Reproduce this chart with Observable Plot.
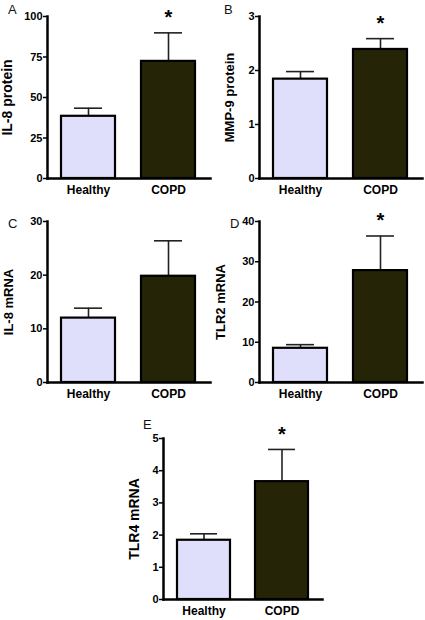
<!DOCTYPE html>
<html><head><meta charset="utf-8">
<script src="https://cdn.jsdelivr.net/npm/d3@7"></script>
<script src="https://cdn.jsdelivr.net/npm/@observablehq/plot@0.6"></script>
<style>
body{margin:0;background:#fff;}
#chart{position:relative;width:425px;height:620px;font-family:"Liberation Sans",Arial,sans-serif;background:#fff;}
.panel{position:absolute;}
.letter{position:absolute;font-size:13px;line-height:1;color:#111;}
</style></head><body><div id="chart"></div>
<script>
// ---- data ----
const groups = ["Healthy", "COPD"];
const il8Protein = [38.4, 72.3];
const il8ProteinSem = [5.0, 17.6];
const mmp9Protein = [1.84, 2.39];
const mmp9ProteinSem = [0.14, 0.20];
const il8Mrna = [12.0, 19.8];
const il8MrnaSem = [1.85, 6.6];
const tlr2Mrna = [8.5, 27.8];
const tlr2MrnaSem = [0.9, 8.6];
const tlr4Mrna = [1.84, 3.66];
const tlr4MrnaSem = [0.2, 1.0];
const panelLetters = ["A", "B", "C", "D", "E"];
const yLabels = ["IL-8 protein", "MMP-9 protein", "IL-8 mRNA", "TLR2 mRNA", "TLR4 mRNA"];
const yTicksA = [0, 25, 50, 75, 100];
const yTicksB = [0, 1, 2, 3];
const yTicksC = [0, 10, 20, 30];
const yTicksD = [0, 10, 20, 30, 40];
const yTicksE = [0, 1, 2, 3, 4, 5];
const significant = [true, true, false, true, true];

// ---- layout ----
const FONT = '"Liberation Sans", Arial, sans-serif';
const LAVENDER = "#dfdffb";
const DARK = "#262406";
const panels = [
  {values: il8Protein, sem: il8ProteinSem, ticks: yTicksA, left: 0, top: 0, width: 212, height: 200, ml: 47, mt: 16, mb: 22, mr: 2, lo: 40, fs: 14, letter: [8, 3]},
  {values: mmp9Protein, sem: mmp9ProteinSem, ticks: yTicksB, left: 212, top: 0, width: 213, height: 200, ml: 47, mt: 16, mb: 22, mr: 3, lo: 30, fs: 13, letter: [224, 3]},
  {values: il8Mrna, sem: il8MrnaSem, ticks: yTicksC, left: 0, top: 200, width: 212, height: 200, ml: 47, mt: 21, mb: 18, mr: 2, lo: 39, fs: 13, letter: [8, 217]},
  {values: tlr2Mrna, sem: tlr2MrnaSem, ticks: yTicksD, left: 212, top: 200, width: 213, height: 200, ml: 47, mt: 21, mb: 18, mr: 3, lo: 39, fs: 13, letter: [230, 217]},
  {values: tlr4Mrna, sem: tlr4MrnaSem, ticks: yTicksE, left: 100, top: 400, width: 230, height: 220, ml: 63, mt: 38, mb: 21, mr: 8, lo: 29, fs: 14, letter: [143, 418]}
];

const chart = document.getElementById("chart");
panels.forEach((p, i) => {
  const data = groups.map((g, j) => ({group: g, value: p.values[j], sem: p.sem[j], top: p.values[j] + p.sem[j]}));
  const marks = [
    Plot.ruleX(data, {x: "group", y1: "value", y2: "top", stroke: "#222", strokeWidth: 1.6}),
    Plot.tickY(data, {x: "group", y: "top", stroke: "#222", strokeWidth: 1.6, insetLeft: 13, insetRight: 13}),
    Plot.barY(data, {x: "group", y: "value", fill: "group", stroke: "#000", strokeWidth: 2.2}),
    Plot.frame({anchor: "left", stroke: "#000", strokeWidth: 2.5}),
    Plot.frame({anchor: "bottom", stroke: "#000", strokeWidth: 2.5}),
    Plot.axisY({ticks: p.ticks, tickFormat: d3.format("d"), tickSize: 4, tickPadding: 1, fontWeight: "bold", fontSize: 11, label: null, strokeWidth: 1.5}),
    Plot.axisX({tickSize: 0, tickPadding: 7, fontWeight: "bold", fontSize: 12, label: null}),
    Plot.text([yLabels[i]], {frameAnchor: "left", rotate: -90, dx: -p.lo, textAnchor: "middle", lineAnchor: "middle", fontWeight: "bold", fontSize: p.fs, fill: "#000"})
  ];
  if (significant[i]) {
    marks.push(Plot.text(data.filter(d => d.group === "COPD"), {x: "group", y: "top", text: () => "*", dy: -15, fontWeight: "bold", fontSize: 20, lineAnchor: "middle", fill: "#000"}));
  }
  const svg = Plot.plot({
    width: p.width, height: p.height,
    marginLeft: p.ml, marginTop: p.mt, marginBottom: p.mb, marginRight: p.mr,
    style: {fontFamily: FONT, color: "#000", background: "transparent", overflow: "visible"},
    x: {domain: groups, paddingInner: 0.32, paddingOuter: 0.17, axis: null},
    y: {domain: [p.ticks[0], p.ticks[p.ticks.length - 1]], axis: null},
    color: {domain: groups, range: [LAVENDER, DARK]},
    marks
  });
  const wrap = document.createElement("div");
  wrap.className = "panel";
  wrap.style.left = p.left + "px";
  wrap.style.top = p.top + "px";
  wrap.appendChild(svg);
  chart.appendChild(wrap);
  const letter = document.createElement("div");
  letter.className = "letter";
  letter.textContent = panelLetters[i];
  letter.style.left = p.letter[0] + "px";
  letter.style.top = p.letter[1] + "px";
  chart.appendChild(letter);
});
</script></body></html>
